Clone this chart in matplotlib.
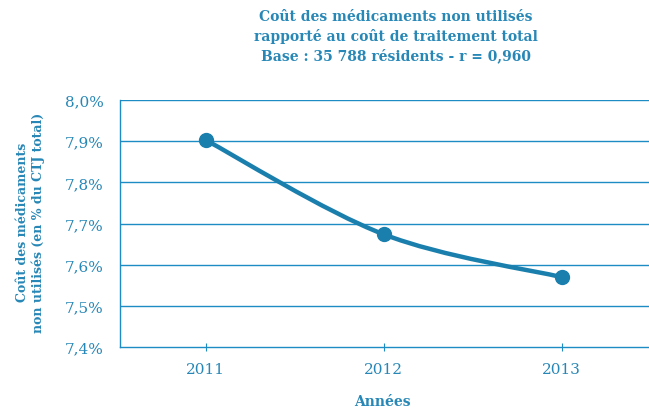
import numpy as np
import matplotlib.pyplot as plt
from matplotlib.path import Path
from matplotlib.patches import PathPatch

### Data ###

years = [2011, 2012, 2013]
cout_mnu = [7.903, 7.674, 7.570]
y_ticks = [7.4, 7.5, 7.6, 7.7, 7.8, 7.9, 8.0]
y_tick_labels = ['7,4%', '7,5%', '7,6%', '7,7%', '7,8%', '7,9%', '8,0%']

title = ("Coût des médicaments non utilisés\n"
         "rapporté au coût de traitement total\n"
         "Base : 35 788 résidents - r = 0,960")

### Visualization ###

line_clr = '#1a7fad'
text_clr = '#2787b6'
grid_clr = '#1e8cc4'

fig = plt.figure(figsize=(6.49, 4.14), dpi=100)
ax = fig.add_axes([0.185, 0.159, 0.815, 0.597])

# Smooth curve through the points (Catmull-Rom style Bezier)
pts = np.column_stack([years, cout_mnu])
verts = [tuple(pts[0])]
codes = [Path.MOVETO]
for i in range(len(pts) - 1):
    p0 = pts[i - 1] if i > 0 else pts[i]
    p1, p2 = pts[i], pts[i + 1]
    p3 = pts[i + 2] if i + 2 < len(pts) else pts[i + 1]
    c1 = p1 + (p2 - p0) / 6
    c2 = p2 - (p3 - p1) / 6
    verts += [tuple(c1), tuple(c2), tuple(p2)]
    codes += [Path.CURVE4] * 3
ax.add_patch(PathPatch(Path(verts, codes), fill=False, edgecolor=line_clr,
                       linewidth=3.2, capstyle='round', zorder=3))
ax.plot(years, cout_mnu, 'o', color=line_clr, markersize=10, zorder=4)

ax.set_xlim(2010.52, 2013.49)
ax.set_ylim(7.4, 8.0)
ax.set_yticks(y_ticks)
ax.set_yticklabels(y_tick_labels)
ax.set_xticks(years)
ax.set_xticklabels([str(y) for y in years])

for y in y_ticks[1:]:
    ax.axhline(y, color=grid_clr, linewidth=1.0, zorder=1)

for side in ['top', 'right']:
    ax.spines[side].set_visible(False)
for side in ['left', 'bottom']:
    ax.spines[side].set_color(grid_clr)
    ax.spines[side].set_linewidth(1.0)

ax.tick_params(axis='y', length=0, pad=12, labelsize=11,
               labelcolor=text_clr)
ax.tick_params(axis='x', direction='inout', length=6, color=grid_clr,
               pad=8, labelsize=11, labelcolor=text_clr)
for lbl in ax.get_xticklabels() + ax.get_yticklabels():
    lbl.set_family('DejaVu Serif')

fig.text(0.61, 0.975, title, ha='center', va='top', color=text_clr,
         fontsize=10, fontweight='bold', family='DejaVu Serif',
         linespacing=1.38)
fig.text(0.59, 0.012, 'Années', ha='center', va='bottom', color=text_clr,
         fontsize=10, fontweight='bold', family='DejaVu Serif')
fig.text(0.047, 0.462, 'Coût des médicaments\nnon utilisés (en % du CTJ total)',
         ha='center', va='center', rotation=90, color=text_clr,
         fontsize=9, fontweight='bold', family='DejaVu Serif',
         linespacing=1.25)

fig.savefig('out.png', dpi=100)
